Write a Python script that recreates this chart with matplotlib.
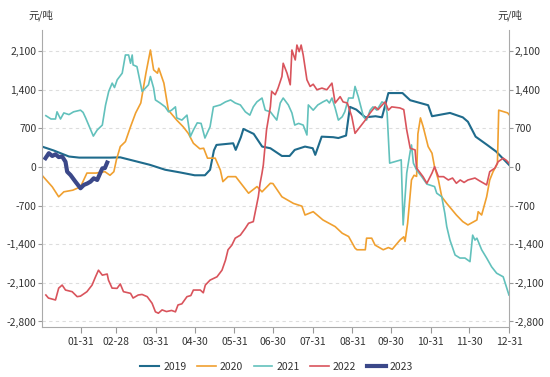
import matplotlib.pyplot as plt
from matplotlib.ticker import FuncFormatter

plt.rcParams['font.family'] = ['Noto Sans CJK SC', 'DejaVu Sans']

# day-of-year / value pairs (元/吨)
d2019 = [1, 10, 22, 30, 54, 62, 85, 97, 109, 120, 128, 132, 135, 137, 150, 152, 156, 158, 166, 172.6,
         179, 188, 194, 198, 206, 212, 214, 219, 228, 232, 238, 241, 246, 253, 261, 266, 271, 282, 288,
         302, 305, 319, 329, 333, 339, 348, 355, 360, 365]
v2019 = [370, 300, 190, 170, 170, 175, 40, -50, -100, -150, -150, -50, 300, 400, 430, 310, 540, 690, 600, 370,
         340, 200, 200, 310, 370, 340, 220, 550, 540, 525, 570, 1090, 1040, 900, 920, 900, 1340, 1340, 1210,
         1120, 920, 980, 900, 820, 550, 400, 280, 160, 40]

d2020 = [1, 9, 14, 18, 25, 31, 36, 43, 50, 54, 57, 59, 62, 66, 70, 74, 78, 82, 85.5, 88, 91, 92, 96, 99.5,
         106, 111, 115, 119, 124, 127, 130, 136, 140, 142, 146, 152, 154, 162, 168.6, 172.5, 179, 181, 188,
         197, 203.6, 206, 212.4, 220, 229.5, 235, 240, 245, 246.5, 253, 254, 258, 260.6, 267, 271, 274, 280,
         283, 284, 286, 289, 291, 293, 294, 296, 298, 302, 305, 307, 310, 312.6, 316.5, 324, 329, 333, 340,
         341, 343.7, 347.6, 350, 352.6, 356, 357, 364, 365]
v2020 = [-150, -360, -540, -450, -420, -360, -110, -110, -85, -150, -85, 130, 370, 460, 730, 980, 1160, 1700,
         2120, 1760, 1700, 1790, 1520, 1030, 850, 730, 610, 430, 330, 340, 160, 160, -55, -265, -175, -175,
         -235, -475, -355, -450, -295, -300, -540, -660, -710, -870, -810, -960, -1080, -1200, -1260, -1470,
         -1500, -1500, -1290, -1290, -1415, -1500, -1460, -1490, -1325, -1265, -1350, -1020, -235, -150, -170,
         600, 890, 740, 370, 250, 0, -235, -540, -660, -870, -990, -1050, -960, -810, -870, -540, -235, -85,
         60, 1030, 980, 950]

d2021 = [4, 8, 11.5, 12.7, 15.4, 18, 22, 25.6, 31, 33, 35, 39, 41, 44, 48, 50.5, 53, 55.7, 57.5, 59.6, 63.5,
         66, 68.5, 70, 71.3, 72, 75, 79, 81.6, 84, 85.5, 88, 89.4, 93, 97, 99.6, 102, 105, 106, 110, 114,
         116.6, 119, 122, 125, 128, 132, 134.6, 140, 144, 148, 151.6, 155.6, 159.5, 163, 165.7, 168.5, 172.5,
         175, 179, 184, 186.7, 189, 193, 195.8, 198, 201, 204.6, 207.5, 208.6, 212.4, 216, 220, 223, 225, 227,
         229.5, 232, 235, 237, 240, 243.5, 245, 247.5, 251.6, 254, 256.8, 259, 262, 266, 268.5, 270, 272, 281,
         282.5, 285.3, 288, 289, 290.5, 293, 297, 301, 307, 308.7, 312.6, 315, 316.5, 319, 323, 326.8, 330.7,
         334.6, 336.7, 338.5, 340, 343.7, 347.6, 351.5, 355.4, 360.5, 365]
v2021 = [930, 870, 870, 1000, 870, 980, 950, 1000, 1030, 990, 890, 670, 560, 670, 760, 1120, 1370, 1520, 1440,
         1580, 1700, 2030, 2030, 1880, 2030, 1850, 1820, 1370, 1430, 1490, 1640, 1430, 1215, 1160, 1090, 1000,
         1030, 1090, 890, 850, 940, 550, 670, 800, 790, 525, 730, 1090, 1125, 1180, 1215, 1160, 1125, 1000, 940,
         1090, 1180, 1250, 1030, 1000, 850, 1160, 1250, 1125, 980, 760, 790, 760, 580, 1125, 1030, 1125, 1180,
         1215, 1160, 1250, 1070, 850, 910, 1000, 1250, 1250, 1460, 1275, 910, 850, 1030, 1090, 1030, 1180, 1150,
         980, 70, 130, -1050, -110, 280, 400, 70, -55, -175, -310, -355, -475, -540, -840, -1080, -1325, -1595,
         -1650, -1650, -1715, -1235, -1325, -1290, -1500, -1650, -1810, -1925, -1990, -2320]

d2022 = [4, 6, 11.5, 14, 16.7, 19.3, 24.5, 28.4, 31, 36, 40, 42.7, 45, 48, 51.8, 52.8, 55.6, 59.5, 62, 64.5,
         70, 72, 76, 79, 83, 86.8, 89.4, 91.7, 94.6, 98, 102, 105, 107, 110, 114, 117, 119, 124.4, 126.7, 128.3,
         132, 137.4, 141.3, 144, 146, 149, 151.6, 155.6, 159.5, 162, 165.7, 167, 169.6, 171, 172.5, 173.5, 176,
         179, 180, 182.8, 185, 188, 189, 192, 194.5, 195.8, 198.4, 199.7, 201.5, 203, 204.6, 207.5, 210, 212.4,
         215.3, 219.2, 223, 227, 229.5, 233.4, 235.7, 239, 242.5, 245, 249, 253, 256.8, 260.6, 263, 266, 268.5,
         271, 273.6, 280, 283, 285.3, 288, 291.8, 293, 298, 301, 305, 307, 310, 314, 317.7, 321, 324, 327, 330,
         333, 338.5, 342, 347.6, 350, 354, 356.5, 360.5, 363, 365]
v2022 = [-2320, -2375, -2410, -2195, -2140, -2230, -2260, -2350, -2340, -2260, -2140, -1990, -1870, -1960, -1940,
         -2050, -2195, -2200, -2120, -2260, -2290, -2375, -2320, -2310, -2350, -2470, -2625, -2650, -2590, -2620,
         -2600, -2625, -2500, -2480, -2350, -2330, -2230, -2230, -2280, -2140, -2050, -1990, -1870, -1690, -1500,
         -1415, -1290, -1235, -1110, -1020, -990, -840, -540, -295, -110, 35, 670, 1090, 1370, 1310, 1430, 1640,
         1880, 1700, 1490, 2120, 1940, 2210, 2090, 2210, 2030, 1580, 1460, 1500, 1400, 1430, 1400, 1520, 1160,
         1275, 1180, 1160, 910, 610, 730, 850, 980, 1090, 1040, 1120, 1180, 1030, 1090, 1070, 1040, 670, 340, 310,
         -20, -175, -295, -110, 5, -175, -175, -235, -200, -295, -235, -280, -235, -200, -250, -325, -85, -20, 95,
         160, 120, 70]

d2023 = [3.7, 6.3, 9, 11.5, 14, 16.7, 19.3, 20.6, 23.2, 27, 31, 33.6, 36.2, 38.8, 41.3, 44, 46, 48, 50, 51.8]
v2023 = [160, 250, 200, 230, 180, 190, 95, -85, -145, -265, -385, -325, -300, -265, -205, -235, -130, -25, -20, 80]

tick_days = [31, 59, 90, 120, 151, 181, 212, 243, 273, 304, 334, 365]
tick_labels = ['01-31', '02-28', '03-31', '04-30', '05-31', '06-30',
               '07-31', '08-31', '09-30', '10-31', '11-30', '12-31']

series = [
    ('2019', d2019, v2019, '#1f6b8c', 1.5),
    ('2020', d2020, v2020, '#f0a030', 1.2),
    ('2021', d2021, v2021, '#62c1bc', 1.2),
    ('2022', d2022, v2022, '#d9545c', 1.2),
    ('2023', d2023, v2023, '#3b4889', 3.0),
]

fig = plt.figure(figsize=(5.5, 3.77), dpi=100)
ax = fig.add_axes([0.0764, 0.1326, 0.849, 0.7874])

for name, d, v, color, lw in series:
    ax.plot(d, v, color=color, lw=lw, label=name, solid_joinstyle='round')

ax.set_xlim(1, 365)
ax.set_ylim(-2900, 2480)
ax.set_xticks(tick_days)
ax.set_xticklabels(tick_labels)
ax.set_yticks(range(-2800, 2101, 700))
ax.yaxis.set_major_formatter(FuncFormatter(lambda v, p: f'{v:,.0f}'))

ax.tick_params(axis='y', left=True, right=True, labelleft=True, labelright=True,
               length=3, width=0.8, color='#999999', labelcolor='#333333', labelsize=7.5, pad=1)
ax.tick_params(axis='x', length=4, width=0.8, color='#999999', labelcolor='#333333', labelsize=7.5, pad=3)

ax.yaxis.grid(True, linestyle=(0, (3, 3)), color='#dddddd', lw=0.8)
ax.set_axisbelow(True)
ax.spines['top'].set_visible(False)
for s in ['left', 'right', 'bottom']:
    ax.spines[s].set_color('#aaaaaa')
    ax.spines[s].set_linewidth(0.8)

fig.text(41 / 550, 1 - 15 / 377, '元/吨', ha='center', va='center', fontsize=7.5, color='#333333')
fig.text(510 / 550, 1 - 15 / 377, '元/吨', ha='center', va='center', fontsize=7.5, color='#333333')

fig.legend(loc='center', bbox_to_anchor=(0.503, 0.027), ncol=5, frameon=False,
           handlelength=1.8, fontsize=7.5, columnspacing=1.0, handletextpad=0.4, labelcolor='#333333')

fig.savefig('out.png', dpi=100)
